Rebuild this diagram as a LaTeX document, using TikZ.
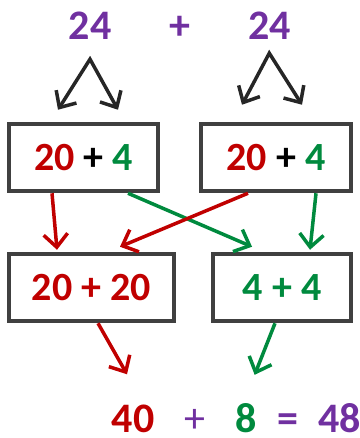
\documentclass[tikz,border=0pt]{standalone}
\usepackage{fontspec}
\setmainfont{Carlito}[BoldFont={Carlito Bold}]
\usetikzlibrary{arrows.meta,positioning}
\definecolor{numpurple}{HTML}{7030A0}
\definecolor{numred}{HTML}{C00000}
\definecolor{numgreen}{HTML}{008A3E}
\definecolor{boxgray}{HTML}{404040}
\tikzset{
    %Define standard arrow tip
    >={Straight Barb[length=13pt,width=24pt]},
    kasten/.style={
      rectangle,
      draw=boxgray, line width=4.5pt,
      minimum height=67pt,
      inner sep=0pt,
      font=\bfseries\fontsize{40}{48}\selectfont},
    zahl/.style={
      inner sep=0pt,
      font=\bfseries\fontsize{42}{50}\selectfont},
    pfeil/.style={
      ->, line width=3.5pt},
}

\begin{document}
\begin{tikzpicture}[x=1pt,y=-1pt]
    \useasboundingbox (0,0) rectangle (359,438);
    % first line: 24 + 24
    \node (top24a) [zahl,text=numpurple,anchor=base] at (90,40) {24};
    \node (topplus) [zahl,text=numpurple] [base right=58pt of top24a] {+};
    \node (top24b) [zahl,text=numpurple] [base right=57pt of topplus] {24};
    % split into tens and ones
    \node (split1) [kasten,minimum width=149pt] at (83.5,157.5)
          {\textcolor{numred}{20} + \textcolor{numgreen}{4}};
    \node (split2) [kasten,minimum width=150pt] at (276,157.5)
          {\textcolor{numred}{20} + \textcolor{numgreen}{4}};
    \node (tens) [kasten,text=numred,minimum width=165pt] at (91.5,287.5)
          {20 + 20};
    \node (ones) [kasten,text=numgreen,minimum width=138pt] at (282,287.5)
          {4 + 4};
    % result
    \node (res40) [zahl,text=numred,anchor=base] at (133,432) {40};
    \node (resplus) [zahl,text=numpurple] [base right=30pt of res40] {\mdseries+};
    \node (res8) [zahl,text=numgreen] [base right=29pt of resplus] {8};
    \node (reseq) [zahl,text=numpurple] [base right=21pt of res8] {=};
    \node (res48) [zahl,text=numpurple] [base right=19pt of reseq] {48};

    \coordinate (fork1) at ([yshift=-19pt]top24a.south);
    \coordinate (fork2) at ([yshift=-13pt]top24b.south);
    \draw [pfeil,<->,black!85]
          ([xshift=-25.5pt,yshift=12pt]split1.north) -- (fork1)
          -- ([xshift=34.5pt,yshift=12pt]split1.north);
    \draw [pfeil,<->,black!85]
          ([xshift=-34pt,yshift=17pt]split2.north) -- (fork2)
          -- ([xshift=26pt,yshift=17pt]split2.north);

    \draw [pfeil,numred] ([xshift=-31.5pt]split1.south)
          -- ([xshift=-34.5pt,yshift=2pt]tens.north);
    \draw [pfeil,numgreen] ([xshift=44.5pt]split1.south)
          -- ([xshift=-30pt,yshift=5pt]ones.north);
    \draw [pfeil,numred] ([xshift=-28pt]split2.south)
          -- ([xshift=28.5pt,yshift=5pt]tens.north);
    \draw [pfeil,numgreen] ([xshift=40pt]split2.south)
          -- ([xshift=28pt,yshift=2pt]ones.north);

    \draw [pfeil,numred] ([xshift=6.5pt]tens.south)
          -- ([xshift=-6pt,yshift=30pt]res40.north);
    \draw [pfeil,numgreen] ([xshift=-7pt]ones.south)
          -- ([xshift=9pt,yshift=28pt]res8.north);
\end{tikzpicture}
\end{document}
